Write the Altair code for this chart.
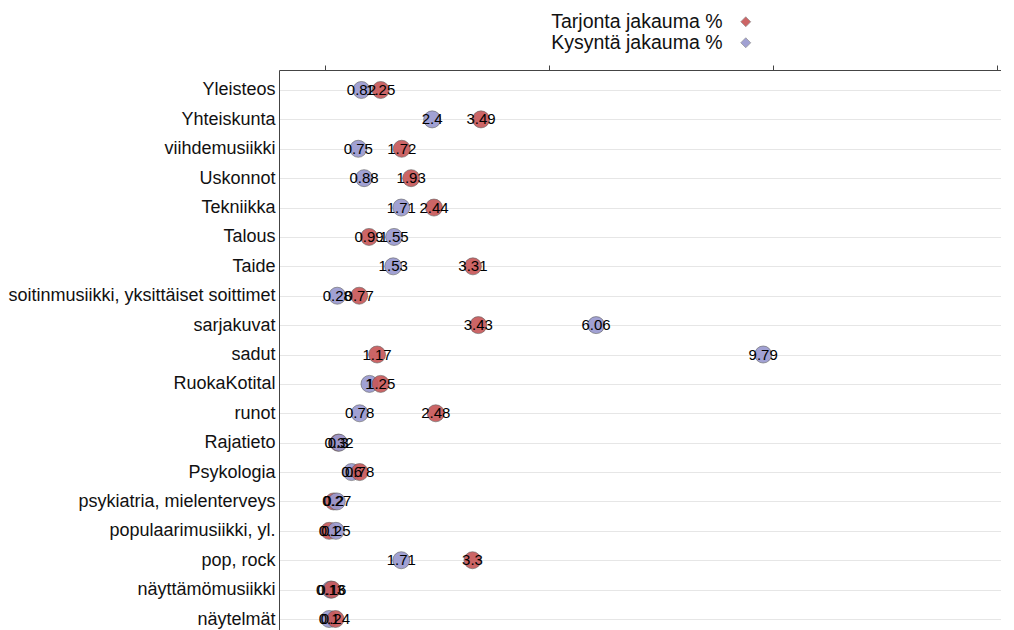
import altair as alt
import pandas as pd

categories = ["Yleisteos", "Yhteiskunta", "viihdemusiikki", "Uskonnot", "Tekniikka",
              "Talous", "Taide", "soitinmusiikki, yksittäiset soittimet", "sarjakuvat",
              "sadut", "RuokaKotital", "runot", "Rajatieto", "Psykologia",
              "psykiatria, mielenterveys", "populaarimusiikki, yl.", "pop, rock",
              "näyttämömusiikki", "näytelmät"]
tarjonta = [1.25, 3.49, 1.72, 1.93, 2.44, 0.99, 3.31, 0.77, 3.43, 1.17, 1.25, 2.48,
            0.3, 0.78, 0.2, 0.1, 3.3, 0.16, 0.24]
kysynta = [0.82, 2.4, 0.75, 0.88, 1.71, 1.55, 1.53, 0.28, 6.06, 9.79, 1, 0.78,
           0.32, 0.6, 0.27, 0.25, 1.71, 0.13, 0.1]
series_names = ["Tarjonta jakauma %", "Kysyntä jakauma %"]
colors = ["#c8585a", "#9a9ad0"]
x_ticks = [0, 5, 10, 15]

rows = []
for name, vals in zip(series_names, [tarjonta, kysynta]):
    for c, v in zip(categories, vals):
        rows.append({"category": c, "series": name, "value": v, "label": f"{v:g}"})
df = pd.DataFrame(rows)

FONT = "Liberation Sans"

x_enc = alt.X("value:Q",
              scale=alt.Scale(domain=[-1.02, 15.1], nice=False, zero=False),
              axis=alt.Axis(orient="top", values=x_ticks, labels=False, title=None,
                            grid=False, tickSize=5, tickColor="#444",
                            domainColor="#444"))
y_enc = alt.Y("category:N", sort=categories,
              scale=alt.Scale(type="point", range=[0, 569], padding=0.68),
              axis=alt.Axis(title=None, ticks=False, grid=True, gridColor="#e6e6e6",
                            labelFontSize=18, labelColor="#111", labelPadding=4,
                            labelFont=FONT, labelLimit=400, domainColor="#444"))

points = alt.Chart(df).mark_circle(size=290, opacity=0.92, stroke="#555",
                                   strokeWidth=0.6).encode(
    x=x_enc,
    y=y_enc,
    color=alt.Color("series:N",
                    scale=alt.Scale(domain=series_names, range=colors),
                    legend=alt.Legend(title=None, orient="none", legendX=457,
                                      legendY=-58, symbolType="diamond",
                                      symbolSize=100, labelFontSize=19.5,
                                      labelFont=FONT, labelColor="#111",
                                      labelAlign="right", labelOffset={"expr": "-33"},
                                      labelLimit=400, rowPadding=0,
                                      symbolStrokeColor="#888",
                                      symbolStrokeWidth=0.7)),
    order=alt.Order("value:Q"),
)

labels = alt.Chart(df).mark_text(fontSize=15, font=FONT, color="black").encode(
    x=alt.X("value:Q"),
    y=alt.Y("category:N", sort=categories),
    text="label:N",
)

chart = alt.layer(points, labels).properties(
    width=722, height=552,
    autosize=alt.AutoSizeParams(type="none"),
    padding={"left": 271, "top": 62, "right": 0, "bottom": 10},
).configure_view(stroke=None)

chart.save("out.html", embed_options={"renderer": "svg", "actions": False})
